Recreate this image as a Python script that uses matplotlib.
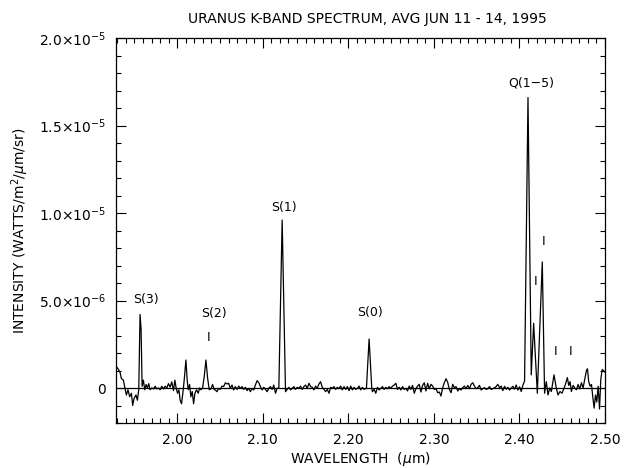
import numpy as np
import matplotlib
matplotlib.use("Agg")
from matplotlib import pyplot as plt
from matplotlib.ticker import MultipleLocator, FixedLocator, FixedFormatter

outputFileName = "out.png"

# spectrum: wavelength (um), intensity (1e-6 W/m^2/um/sr)
wl = [1.9285, 1.9293, 1.9308, 1.9332, 1.9347, 1.9371, 1.9390, 1.9406, 1.9425, 1.9445,
      1.9465, 1.9480, 1.9496, 1.9519, 1.9535, 1.9551, 1.9566, 1.9578, 1.9590, 1.9605,
      1.9621, 1.9637, 1.9652, 1.9668, 1.9683, 1.9703, 1.9723, 1.9742, 1.9762, 1.9781,
      1.9801, 1.9820, 1.9840, 1.9859, 1.9879, 1.9898, 1.9918, 1.9937, 1.9957, 1.9973,
      1.9988, 2.0004, 2.0020, 2.0035, 2.0051, 2.0066, 2.0082, 2.0102, 2.0117, 2.0129,
      2.0145, 2.0160, 2.0176, 2.0192, 2.0207, 2.0227, 2.0246, 2.0262, 2.0277, 2.0297,
      2.0316, 2.0336, 2.0356, 2.0375, 2.0395, 2.0414, 2.0434,
      2.0446, 2.0465, 2.0485, 2.0504, 2.0524, 2.0543, 2.0563, 2.0582, 2.0602, 2.0621,
      2.0641, 2.0660, 2.0680, 2.0700, 2.0719, 2.0739, 2.0758, 2.0778, 2.0797, 2.0817,
      2.0836, 2.0856, 2.0875, 2.0895, 2.0914, 2.0934, 2.0954, 2.0973, 2.0993, 2.1012,
      2.1032, 2.1051, 2.1071, 2.1090, 2.1110, 2.1129, 2.1149, 2.1168, 2.1188, 2.1227,
      2.1266, 2.1286, 2.1305, 2.1325, 2.1344, 2.1364, 2.1383, 2.1403, 2.1422, 2.1442,
      2.1461, 2.1481, 2.1501, 2.1520, 2.1540, 2.1559,
      2.1579, 2.1598, 2.1618, 2.1637, 2.1657, 2.1676, 2.1696, 2.1716, 2.1735, 2.1755,
      2.1774, 2.1794, 2.1813, 2.1833, 2.1852, 2.1872, 2.1891, 2.1911, 2.1930, 2.1950,
      2.1970, 2.1989, 2.2009, 2.2028, 2.2048, 2.2067, 2.2087, 2.2106, 2.2126, 2.2145,
      2.2165, 2.2184, 2.2204, 2.2212, 2.2243, 2.2274, 2.2282, 2.2302, 2.2321, 2.2341,
      2.2360, 2.2380, 2.2399, 2.2419, 2.2438, 2.2458, 2.2477, 2.2497, 2.2517, 2.2536,
      2.2556, 2.2575, 2.2595, 2.2614, 2.2634, 2.2653, 2.2673,
      2.2692, 2.2712, 2.2731, 2.2751, 2.2771, 2.2790, 2.2810, 2.2829, 2.2849, 2.2868,
      2.2888, 2.2907, 2.2927, 2.2946, 2.2966, 2.2986, 2.3005, 2.3025, 2.3044, 2.3064,
      2.3083, 2.3103, 2.3122, 2.3142, 2.3161, 2.3181, 2.3201, 2.3220, 2.3240, 2.3259,
      2.3279, 2.3298, 2.3318, 2.3337, 2.3357, 2.3376, 2.3396, 2.3416, 2.3435, 2.3455,
      2.3474, 2.3494, 2.3513, 2.3533, 2.3552, 2.3572, 2.3591, 2.3611, 2.3630, 2.3650,
      2.3669, 2.3689, 2.3708, 2.3728, 2.3747, 2.3767, 2.3787,
      2.3806, 2.3826, 2.3845, 2.3865, 2.3884, 2.3904, 2.3923, 2.3943, 2.3962, 2.3982,
      2.4002, 2.4021, 2.4041, 2.4060, 2.4100, 2.4138, 2.4166, 2.4209, 2.4267, 2.4294,
      2.4314, 2.4334, 2.4353, 2.4373, 2.4404, 2.4431, 2.4451, 2.4474, 2.4498, 2.4521,
      2.4537, 2.4560, 2.4576, 2.4592, 2.4607, 2.4627, 2.4646, 2.4666, 2.4686, 2.4705,
      2.4725, 2.4744, 2.4764, 2.4783, 2.4795, 2.4810, 2.4826, 2.4842, 2.4857, 2.4873,
      2.4889, 2.4904, 2.4920, 2.4936, 2.4951, 2.4967, 2.4982, 2.5000]

flux_e6 = [1.25, 1.2, 1.1, 0.9, 0.55, 0.45, 0.0, -0.4, -0.1, -0.5,
           -0.3, -1.0, -0.6, -0.4, -0.7, -0.1, 4.2, 3.4, 0.1, 0.45,
           -0.1, 0.2, 0.0, 0.25, -0.1, 0.0, -0.05, 0.1, -0.05, 0.0,
           -0.1, 0.1, -0.05, 0.1, 0.0, 0.25, 0.05, 0.35, -0.15, 0.45,
           0.0, -0.3, -0.1, -0.7, -0.9, -0.3, 0.45, 1.6, 0.45, -0.1,
           0.2, -0.5, -0.2, -0.9, -0.3, -0.1, -0.3, 0.0, -0.1, 0.0,
           0.65, 1.6, 0.55, -0.1, -0.05, 0.2, -0.1,
           -0.11, -0.21, -0.02, -0.08, 0.11, 0.08, 0.3, 0.23, 0.27, -0.02,
           0.17, -0.11, 0.08, -0.08, 0.11, -0.02, 0.08, -0.08, 0.04, -0.15,
           -0.02, -0.21, -0.02, -0.11, 0.17, 0.42, 0.3, 0.08, -0.11, 0.04,
           -0.08, -0.21, -0.02, 0.08, -0.08, 0.17, -0.3, -0.02, 0.0, 9.6,
           -0.21, -0.08, 0.04, -0.11, -0.02, 0.08, -0.08, 0.04, -0.02, 0.11,
           -0.08, 0.08, 0.17, -0.02, 0.27, 0.08,
           0.04, -0.11, 0.11, -0.02, 0.23, 0.36, 0.04, -0.08, -0.21, -0.08,
           -0.3, 0.04, -0.02, 0.08, -0.08, 0.04, -0.04, 0.11, -0.11, 0.08,
           -0.08, 0.08, -0.15, 0.11, -0.11, 0.04, -0.08, -0.02, 0.11, -0.11,
           0.04, -0.08, -0.02, 0.0, 2.8, 0.0, -0.21, -0.08, -0.3, 0.04,
           -0.11, -0.02, 0.08, -0.08, 0.04, -0.04, 0.08, -0.02, 0.11, 0.17,
           0.27, -0.08, 0.04, -0.11, 0.08, -0.08, -0.02,
           -0.17, 0.11, -0.08, 0.15, -0.3, -0.04, 0.11, 0.21, -0.23, 0.15,
           0.3, -0.17, 0.27, -0.04, 0.21, 0.11, -0.08, -0.04, -0.27, -0.23,
           -0.46, 0.02, 0.3, 0.53, 0.34, -0.08, -0.27, 0.21, 0.02, 0.08,
           -0.17, -0.04, -0.11, 0.02, 0.11, -0.04, 0.15, -0.04, 0.21, 0.3,
           0.11, -0.04, 0.02, 0.15, -0.11, -0.04, 0.02, -0.08, -0.04, 0.08,
           -0.08, -0.04, 0.02, 0.08, 0.21, 0.02, 0.11,
           -0.15, 0.1, -0.07, 0.04, -0.12, 0.0, 0.1, -0.07, 0.17, -0.12,
           0.07, -0.2, 0.17, 0.4, 16.6, 0.75, 3.7, -0.3, 7.2, -0.3,
           0.36, -0.4, 0.0, -0.2, 0.75, 0.0, -0.4, -0.2, -0.3, 0.0,
           0.2, 0.6, 0.15, 0.36, -0.2, 0.15, 0.0, -0.1, 0.2, -0.05,
           0.3, 0.0, 0.5, 1.0, 1.1, 0.36, 0.1, 0.2, -0.5, -1.15,
           -0.4, -0.8, 0.1, -1.2, 0.5, 1.05, 1.0, 0.9]

# line identifications
line_names = ["S(3)", "S(2)", "S(1)", "S(0)", "Q(1\u22125)"]
line_name_wl = [1.9637, 2.0434, 2.1243, 2.2251, 2.4138]
line_name_y_e6 = [5.03, 4.23, 10.34, 4.29, 17.43]

# small tick marks flagging weaker lines
mark_wl = [2.0366, 2.4185, 2.4281, 2.4422, 2.4597]
mark_y_e6 = [2.86, 6.1, 8.4, 2.06, 2.06]

ytick_vals = [0, 5e-6, 1e-5, 1.5e-5, 2e-5]
ytick_labels = ["0", r"5.0$\times$10$^{-6}$", r"1.0$\times$10$^{-5}$",
                r"1.5$\times$10$^{-5}$", r"2.0$\times$10$^{-5}$"]
xtick_vals = [2.0, 2.1, 2.2, 2.3, 2.4, 2.5]
xtick_labels = ["2.00", "2.10", "2.20", "2.30", "2.40", "2.50"]

flux = np.array(flux_e6) * 1e-6

plt.rcParams['font.family'] = ['DejaVu Sans']
plt.rcParams['mathtext.fontset'] = 'dejavusans'

fig = plt.figure(figsize=(6.26, 4.68), dpi=100)
ax = fig.add_axes([116/626, 45/468, (605-116)/626, (423-38)/468])

ax.axhline(0, color="k", lw=0.9)
ax.plot(wl, flux, "k-", lw=0.9)

for name, x, y in zip(line_names, line_name_wl, line_name_y_e6):
    ax.text(x, y*1e-6, name, ha="center", va="center", fontsize=9)
for x, y in zip(mark_wl, mark_y_e6):
    ax.text(x, y*1e-6, "I", ha="center", va="center", fontsize=9)

ax.set_xlim(1.9285, 2.50)
ax.set_ylim(-2e-6, 2e-5)

ax.xaxis.set_major_locator(FixedLocator(xtick_vals))
ax.xaxis.set_major_formatter(FixedFormatter(xtick_labels))
ax.xaxis.set_minor_locator(MultipleLocator(0.01))
ax.yaxis.set_major_locator(FixedLocator(ytick_vals))
ax.yaxis.set_major_formatter(FixedFormatter(ytick_labels))
ax.yaxis.set_minor_locator(MultipleLocator(1e-6))

ax.tick_params(which="both", direction="in", top=True, right=True, width=0.8)
ax.tick_params(which="major", length=7, labelsize=10, pad=7)
ax.tick_params(which="minor", length=3.5)
for s in ax.spines.values():
    s.set_linewidth(0.9)

ax.set_xlabel(r"WAVELENGTH  ($\mu$m)", fontsize=10, labelpad=2)
ax.set_ylabel(r"INTENSITY (WATTS/m$^2$/$\mu$m/sr)", fontsize=10, labelpad=6)
ax.set_title("URANUS K-BAND SPECTRUM, AVG JUN 11 - 14, 1995", fontsize=10,
             x=0.515, pad=11)

plt.savefig(outputFileName, dpi=100)
plt.close()
